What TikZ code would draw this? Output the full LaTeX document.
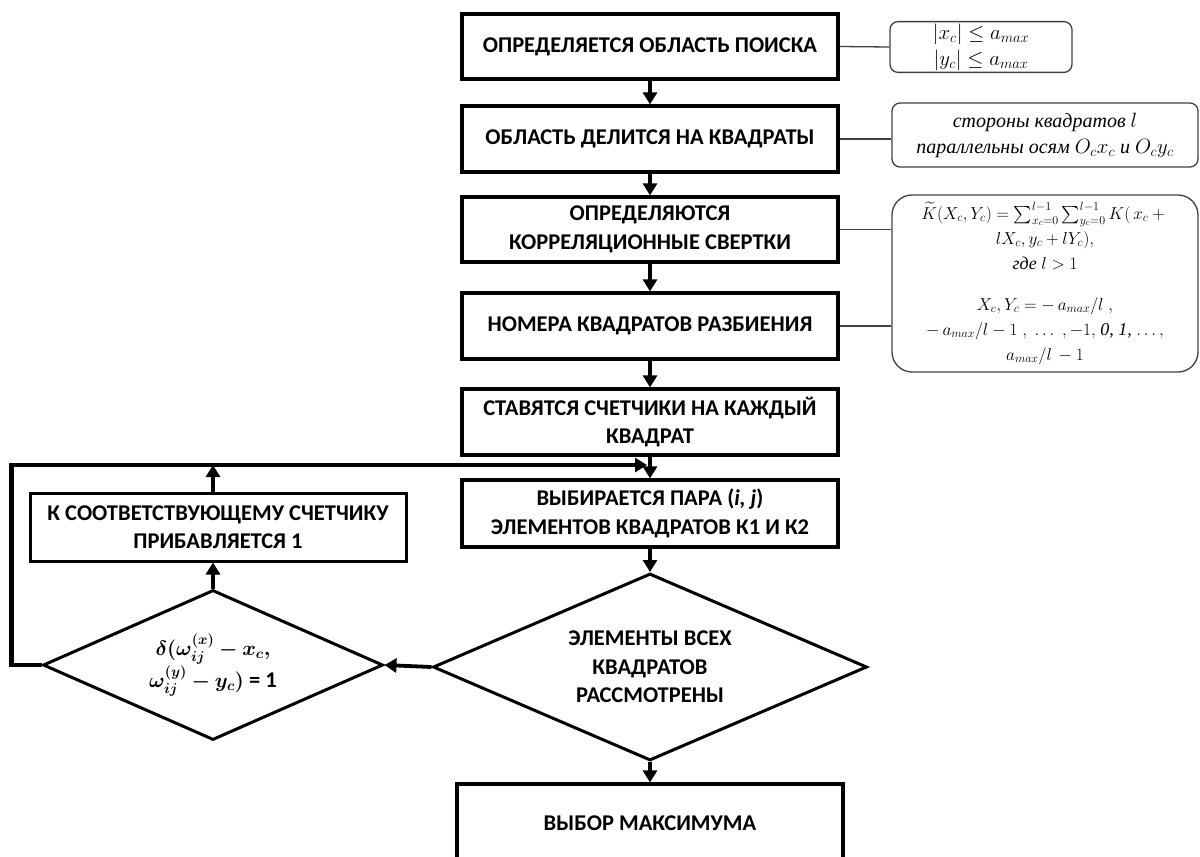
\documentclass[tikz,border=0pt]{standalone}
\usepackage{amsmath}
\usepackage{bm}
\usepackage{fontspec}
\setmainfont{Liberation Serif}
\newfontfamily\boxfont{Carlito}
\usetikzlibrary{shapes.geometric,arrows.meta}

\begin{document}
\begin{tikzpicture}[x=1pt,y=-1pt,
    block/.style={draw, line width=3.2pt, minimum width=376pt, minimum height=66pt,
      inner sep=2pt, align=center, font=\fontsize{22.5}{28.5}\selectfont\boxfont\bfseries},
    test/.style={draw, diamond, line width=3pt, inner sep=0pt, aspect=2.3, align=center,
      font=\fontsize{22.5}{28.5}\selectfont\boxfont\bfseries},
    note/.style={draw=black!75, line width=1.3pt, rounded corners=8pt, align=center,
      inner sep=2pt, font=\fontsize{20}{26}\selectfont\itshape},
    flow/.style={line width=3.8pt, -{Triangle[length=12pt,width=14pt]}},
    link/.style={draw=black!75, line width=1.3pt}]

  \clip (0,0) rectangle (1200,857);

  % main column
  \node[block, minimum height=65pt] (area) at (650,46.5) {ОПРЕДЕЛЯЕТСЯ ОБЛАСТЬ ПОИСКА};
  \node[block] (split) at (650,139) {ОБЛАСТЬ ДЕЛИТСЯ НА КВАДРАТЫ};
  \node[block, minimum height=65pt] (conv) at (650,229.5) {ОПРЕДЕЛЯЮТСЯ\\КОРРЕЛЯЦИОННЫЕ СВЕРТКИ};
  \node[block] (nums) at (650,326) {НОМЕРА КВАДРАТОВ РАЗБИЕНИЯ};
  \node[block] (count) at (650,422) {СТАВЯТСЯ СЧЕТЧИКИ НА КАЖДЫЙ\\КВАДРАТ};
  \node[block, minimum height=67pt] (pair) at (650,513.5) {ВЫБИРАЕТСЯ ПАРА (\textit{i, j})\\ЭЛЕМЕНТОВ КВАДРАТОВ К1 И К2};
  \node[test, minimum width=434pt, minimum height=187pt] (done) at (650,667)
    {ЭЛЕМЕНТЫ ВСЕХ\\КВАДРАТОВ\\РАССМОТРЕНЫ};
  \node[block, minimum width=386pt, minimum height=78pt] (maxim) at (650,823) {ВЫБОР МАКСИМУМА};

  % loop on the left
  \node[block, line width=3pt, minimum height=68pt] (inc) at (218,527)
    {К СООТВЕТСТВУЮЩЕМУ СЧЕТЧИКУ\\ПРИБАВЛЯЕТСЯ 1};
  \node[test, minimum width=340pt, minimum height=150pt] (delta) at (213,665)
    {$\bm{\delta(\omega_{ij}^{(x)}-x_c,}$\\$\bm{\omega_{ij}^{(y)}-y_c)}$ = 1};
  \coordinate (join) at (650,465);

  % notes
  \node[note, minimum width=182pt, minimum height=50pt] (n1) at (981,47)
    {$|x_c|\le a_{max}$\\$|y_c|\le a_{max}$};
  \node[note, minimum width=306pt, minimum height=64pt] (n2) at (1045,135)
    {стороны квадратов $l$\\параллельны осям $O_cx_c$ и $O_cy_c$};
  \node[note, rounded corners=20pt, minimum width=306pt, minimum height=177pt,
    font=\fontsize{18}{25}\selectfont\itshape] (n3) at (1045,283.5)
    {$\widetilde{K}(X_c,Y_c)=\sum_{x_c=0}^{l-1}\sum_{y_c=0}^{l-1}K(\,x_c+{}$\\
     $lX_c,y_c+lY_c),$\\
     где $l>1$\\[16pt]
     $X_c,Y_c=-\,a_{max}/l\;,$\\
     $-\,a_{max}/l-1\;,\;\ldots\;,-1,$ \textit{0, 1}, $\ldots,$\\
     $a_{max}/l\,-1$};

  \draw[link] (area.east) -- (n1.west);
  \draw[link] (split.east) -- (split.east -| n2.west);
  \draw[link] (conv.east) -- (conv.east -| n3.west);
  \draw[link] (nums.east) -- (nums.east -| n3.west);

  % arrows
  \draw[flow] (area) -- (split);
  \draw[flow] (split) -- (conv);
  \draw[flow] (conv) -- (nums);
  \draw[flow] (nums) -- (count);
  \draw[flow] (count) -- (pair);
  \draw[flow] (pair) -- (done);
  \draw[flow] (done) -- (maxim);
  \draw[flow] (done.west) -- (delta.east);
  \draw[flow] (delta.north) -- (delta.north |- inc.south);
  \draw[flow] (delta.north |- inc.north) -- (delta.north |- join);
  \draw[flow, line width=4.2pt, shorten >=3pt] (delta.west) -- ++(-30,0) |- (join);
\end{tikzpicture}
\end{document}
